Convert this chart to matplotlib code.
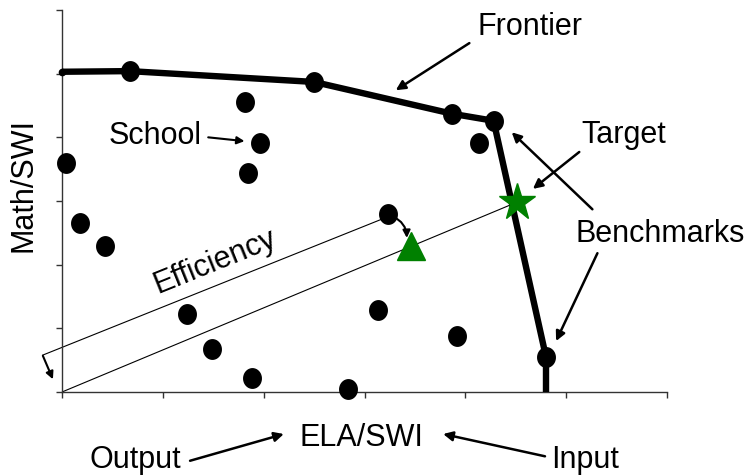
import matplotlib
matplotlib.use("Agg")
import matplotlib.pyplot as plt
import numpy as np
from matplotlib.path import Path

plt.rcParams['font.family'] = ['Liberation Sans', 'DejaVu Sans']

# Frontier (piecewise linear envelope)
frontier_x = [0.0, 0.67, 2.50, 3.87, 4.28, 4.80, 4.80]
frontier_y = [5.03, 5.04, 4.87, 4.37, 4.26, 0.55, 0.0]
# Benchmark / frontier schools (dots on the frontier)
bench_x = [0.67, 2.50, 3.87, 4.28, 4.80]
bench_y = [5.04, 4.87, 4.37, 4.26, 0.55]
# Other schools
school_x = [1.81, 1.96, 1.84, 4.14, 0.04, 0.18, 0.43, 3.23, 1.24, 1.49, 1.88, 2.84, 3.13, 3.92]
school_y = [4.55, 3.91, 3.44, 3.91, 3.60, 2.65, 2.29, 2.80, 1.23, 0.68, 0.22, 0.05, 1.29, 0.88]
# Projected school (triangle) and target (star)
proj_x, proj_y = [3.46], [2.29]
target_x, target_y = [4.51], [2.98]
# Efficiency dimension line
eff_x = [-0.19, 3.18]
eff_y = [0.58, 2.72]

# slightly tall elliptical dot marker
t = np.linspace(0, 2 * np.pi, 60)
ell = Path(np.column_stack([0.9 * np.cos(t), np.sin(t)]), closed=True)

fig = plt.figure(figsize=(7.48, 4.76), dpi=100)
ax = fig.add_axes([62/748, 84/476, 605/748, 382/476])
ax.set_xlim(0, 6)
ax.set_ylim(0, 6)
ax.set_xticks(range(7))
ax.set_yticks(range(7))
ax.set_xticklabels([])
ax.set_yticklabels([])
ax.tick_params(direction='out', length=4, width=1, colors='#333333')
for s in ['top', 'right']:
    ax.spines[s].set_visible(False)
for s in ['left', 'bottom']:
    ax.spines[s].set_color('#333333')
    ax.spines[s].set_linewidth(1)

# ray from origin to target
ax.plot([0, target_x[0]], [0, target_y[0]], color='black', lw=0.8, zorder=2)
# efficiency dimension line
ax.plot(eff_x, eff_y, color='black', lw=0.8, zorder=2, clip_on=False)

# frontier
ax.plot(frontier_x, frontier_y, color='black', lw=4.6, solid_capstyle='butt', zorder=3, clip_on=False)
ax.plot([frontier_x[0]], [frontier_y[0]], 'o', color='black', ms=4.5, zorder=3, clip_on=False)
ax.plot(bench_x, bench_y, marker=ell, ls='none', color='black', ms=14, zorder=4, clip_on=False)
ax.plot(school_x, school_y, marker=ell, ls='none', color='black', ms=14, zorder=4, clip_on=False)
ax.plot(proj_x, proj_y, '^', color='green', ms=20, mec='green', zorder=5)
ax.plot(target_x, target_y, '*', color='green', ms=28, mec='green', zorder=5)

fs = 22
arr = dict(arrowstyle='-|>', color='black', lw=1.8, mutation_scale=14, shrinkA=0, shrinkB=0)

def arrow(x0, y0, x1, y1, **kw):
    props = dict(arr)
    props.update(kw)
    ax.annotate('', xy=(x1, y1), xytext=(x0, y0), xycoords='data', textcoords='data',
                arrowprops=props, annotation_clip=False)

ax.text(4.64, 5.73, 'Frontier', fontsize=fs, ha='center', va='center')
arrow(4.04, 5.48, 3.31, 4.74)
ax.text(0.92, 4.02, 'School', fontsize=fs, ha='center', va='center')
arrow(1.45, 4.00, 1.81, 3.94, lw=1.5, mutation_scale=11)
ax.text(5.57, 4.04, 'Target', fontsize=fs, ha='center', va='center', clip_on=False)
arrow(5.13, 3.77, 4.67, 3.19)
ax.text(5.93, 2.48, 'Benchmarks', fontsize=fs, ha='center', va='center', clip_on=False)
arrow(5.26, 2.87, 4.46, 4.08)
arrow(5.31, 2.18, 4.90, 0.80)

ax.text(1.52, 2.04, 'Efficiency', fontsize=fs, ha='center', va='center', rotation=22,
        rotation_mode='anchor')
arrow(-0.19, 0.57, -0.09, 0.20, lw=1.5, mutation_scale=11)
arrow(3.28, 2.76, 3.42, 2.42, lw=1.5, mutation_scale=11, connectionstyle='arc3,rad=-0.3')

ax.text(2.97, -0.72, 'ELA/SWI', fontsize=fs, ha='center', va='center', clip_on=False)
ax.text(0.73, -1.07, 'Output', fontsize=fs, ha='center', va='center', clip_on=False)
arrow(1.27, -1.08, 2.20, -0.66)
ax.text(5.19, -1.07, 'Input', fontsize=fs, ha='center', va='center', clip_on=False)
arrow(4.79, -1.01, 3.78, -0.66)
ax.text(-0.38, 3.25, 'Math/SWI', fontsize=fs, ha='center', va='center', rotation=90, clip_on=False)

fig.savefig('out.png', dpi=100)
